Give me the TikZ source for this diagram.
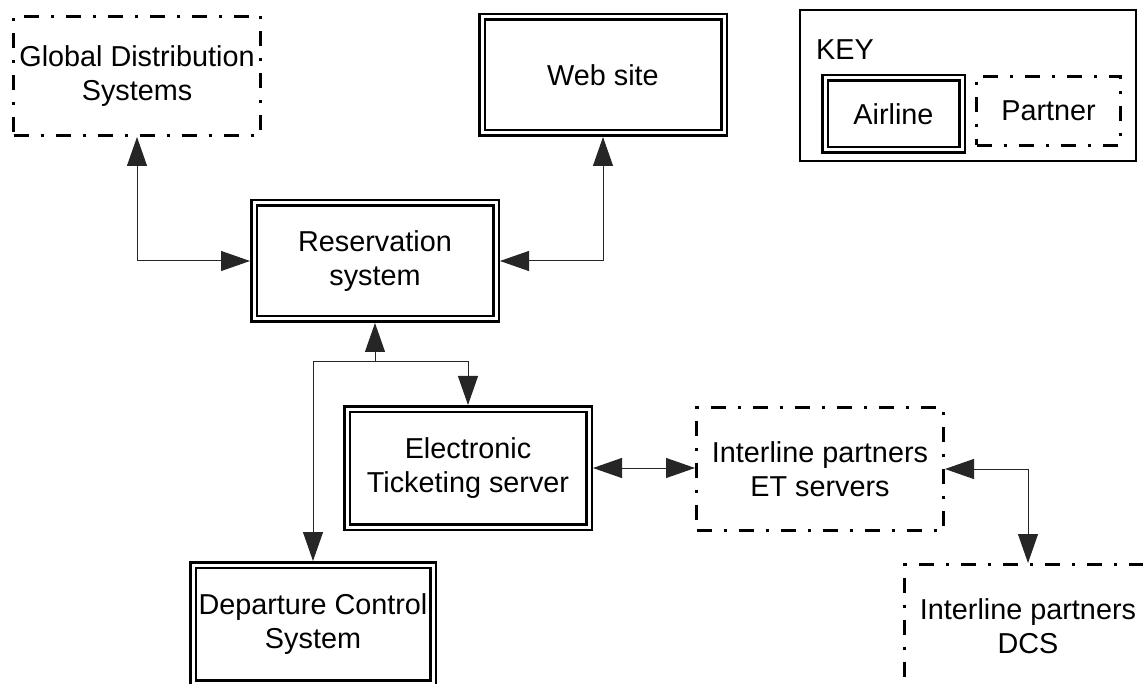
\documentclass[tikz,border=0pt]{standalone}
\usepackage{fontspec}
\setmainfont{Liberation Sans}
\usetikzlibrary{arrows.meta}

\tikzset{
  base/.style={align=center, inner sep=0pt,
    font=\fontsize{28.8}{34.5}\selectfont},
  airline/.style={base, draw, line width=2.5pt, double, double distance=3pt,
    outer sep=4pt},
  partner/.style={base, draw, line width=3pt, outer sep=1.5pt,
    dash pattern=on 15pt off 12pt on 3pt off 12pt},
  keyframe/.style={draw, line width=2pt, inner sep=0pt},
  link/.style={draw=black!85, line width=1pt,
    arrows={-Triangle[length=29pt,width=20pt]}},
  bilink/.style={link,
    arrows={Triangle[length=29pt,width=20pt]-Triangle[length=29pt,width=20pt]}},
}

\begin{document}
\begin{tikzpicture}[x=1pt, y=-1pt]
  \useasboundingbox (0,0) rectangle (1143,684);

  % systems
  \node[partner, minimum width=247pt, minimum height=119pt] (gds) at (137,76)
    {Global Distribution\\Systems};
  \node[airline, minimum width=242pt, minimum height=116pt] (web) at (603,75)
    {Web site};
  \node[airline, minimum width=242pt, minimum height=116pt] (res) at (375,261)
    {Reservation\\system};
  \node[airline, minimum width=242pt, minimum height=118pt] (et) at (468,468)
    {Electronic\\Ticketing server};
  \node[partner, minimum width=247pt, minimum height=123pt] (iet) at (820,469)
    {Interline partners\\ET servers};
  \node[airline, minimum width=240pt, minimum height=118pt] (dcs) at (313,624)
    {Departure Control\\System};
  \node[partner, minimum width=247pt, minimum height=123pt] (ipd) at (1028,626)
    {Interline partners\\DCS};

  % key
  \node[keyframe, minimum width=336pt, minimum height=151pt] (key) at (968,85.5) {};
  \node[base, anchor=west] (keytitle) at (816,50) {KEY};
  \node[airline, minimum width=137pt, minimum height=72pt] (keyairline) at (893.5,114)
    {Airline};
  \node[partner, minimum width=144pt, minimum height=69pt] (keypartner) at (1048.5,111)
    {Partner};

  % connectors
  \draw[bilink] (gds.south) |- (res.west);
  \draw[bilink] (web.south) |- (res.east);
  \coordinate (j) at ([yshift=-39pt]res.south);
  \draw[link] (j) -- (res.south);
  \draw[link] (j) -| (et.north);
  \draw[link] (j) -| (dcs.north);
  \draw[bilink] (et.east) -- (et.east -| iet.west);
  \draw[bilink] (iet.east) -| (ipd.north);
\end{tikzpicture}
\end{document}
